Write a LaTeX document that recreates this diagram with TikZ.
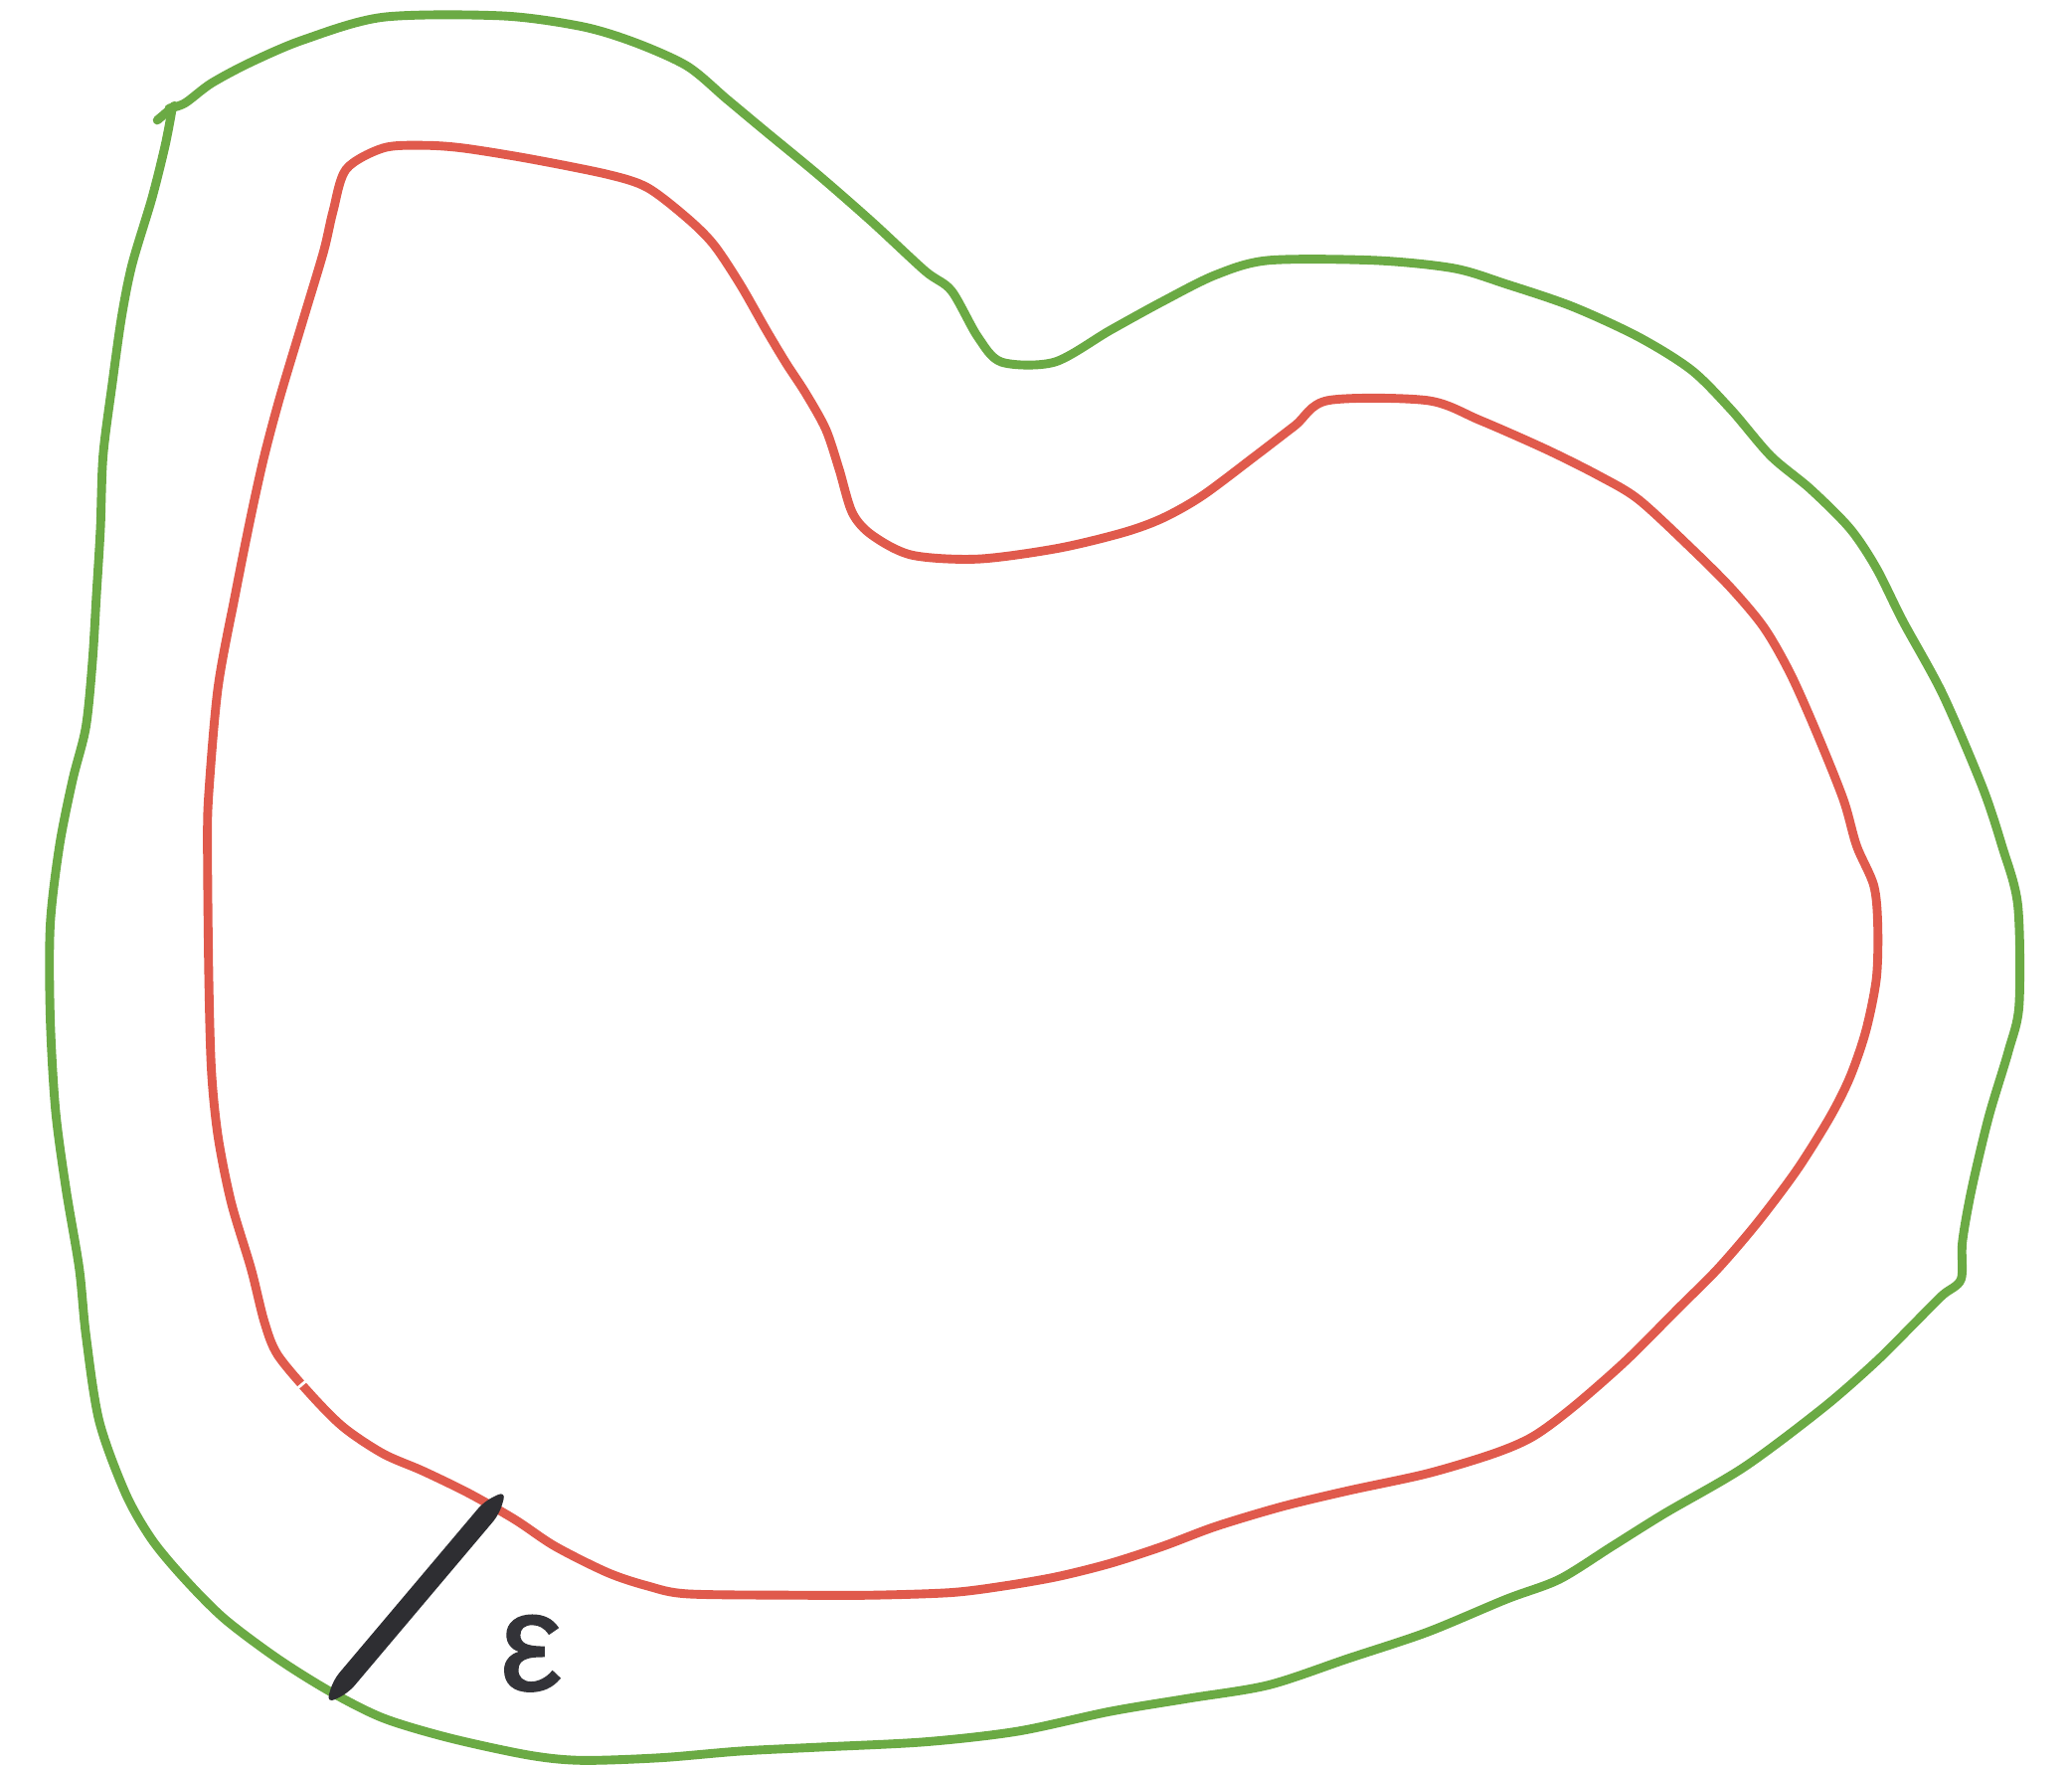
\documentclass[tikz,border=0pt]{standalone}
\usepackage{fontspec}
\newfontfamily\epsfont[FakeBold=1.2]{Liberation Sans}
\definecolor{outergreen}{HTML}{6BAA44}
\definecolor{innerred}{HTML}{E05A4C}
\definecolor{inkgray}{HTML}{333338}
\begin{document}
\begin{tikzpicture}[x=0.02cm,y=-0.02cm,
  greenline/.style={draw=outergreen,line width=3.8pt,line cap=round,line join=round},
  redline/.style={draw=innerred,line width=3.8pt,line cap=round,line join=round}]
\useasboundingbox[fill=white] (0,0) rectangle (1568,1337);
% outer green curve
\draw[greenline] plot[smooth,tension=0.5] coordinates {
(128,82) (140,78) (160,63) (190,47) (230,30) (290,13) (380,12) (440,20) (480,32) (520,50) (550,75) (580,100) (620,133) (660,168) (700,205) (720,220) (740,255) (758,274) (798,274) (840,250) (880,228) (920,208) (960,197) (1040,197) (1100,203) (1140,215) (1190,232) (1240,255) (1280,280) (1310,310) (1340,345) (1370,370) (1400,400) (1420,430) (1440,470) (1470,525) (1500,595) (1515,640) (1527,685) (1528,760) (1520,795) (1505,845) (1492,900) (1485,940) (1484,968) (1470,980) (1450,1000) (1420,1030) (1380,1065) (1320,1110) (1260,1145) (1220,1170) (1180,1195) (1140,1210) (1080,1235) (1020,1255) (960,1275) (900,1285) (840,1295) (770,1310) (700,1318) (620,1322) (560,1325) (500,1330) (440,1332) (400,1328) (340,1315) (290,1300) (250,1280) (210,1255) (170,1225) (140,1195) (115,1165) (95,1130) (75,1075) (65,1010) (60,960) (50,900) (42,840) (38,770) (38,700) (45,640) (55,590) (65,550) (70,500) (73,450) (76,400) (78,345) (85,290) (92,240) (100,200) (115,150) (125,110) (130,84)};
\draw[greenline] (119,91) -- (132,80);
% inner red curve
\draw[redline] plot[smooth cycle,tension=0.5] coordinates {
(262,128) (290,112) (320,110) (350,112) (400,120) (460,132) (490,142) (520,165) (540,185) (560,215) (580,250) (595,275) (610,298) (625,325) (635,355) (645,388) (660,405) (690,420) (740,423) (800,415) (850,403) (880,392) (910,375) (950,345) (980,322) (1005,303) (1080,303) (1120,318) (1170,340) (1210,360) (1240,378) (1280,415) (1310,445) (1335,475) (1355,510) (1375,555) (1395,605) (1405,640) (1418,670) (1421,700) (1420,740) (1412,780) (1400,815) (1385,845) (1360,885) (1330,925) (1300,960) (1270,990) (1230,1030) (1190,1065) (1160,1087) (1130,1100) (1080,1115) (1020,1128) (970,1140) (920,1155) (880,1170) (840,1183) (800,1193) (760,1200) (720,1205) (660,1207) (600,1207) (520,1206) (490,1200) (460,1190) (420,1170) (390,1150) (355,1130) (320,1113) (290,1100) (260,1080) (235,1055) (210,1025) (200,1000) (190,960) (175,910) (165,860) (160,810) (158,740) (157,640) (158,600) (165,520) (178,450) (190,390) (200,345) (212,300) (230,240) (245,190) (252,160)};
\draw[white,line width=1.2pt] (221,1054) -- (235,1042);
% epsilon marker stroke
\coordinate (mA) at (247,1289);
\coordinate (mB) at (383,1128);
\fill[inkgray!90!black,rounded corners=4pt] (mA) -- (263.61,1280.96) -- (377.85,1145.72) -- (mB)
  -- (366.39,1136.04) -- (252.15,1271.28) -- cycle;
\node[text=inkgray,inner sep=0pt] (eps) at (402,1251) {\epsfont\fontsize{60}{66}\selectfont ε};
\end{tikzpicture}
\end{document}
